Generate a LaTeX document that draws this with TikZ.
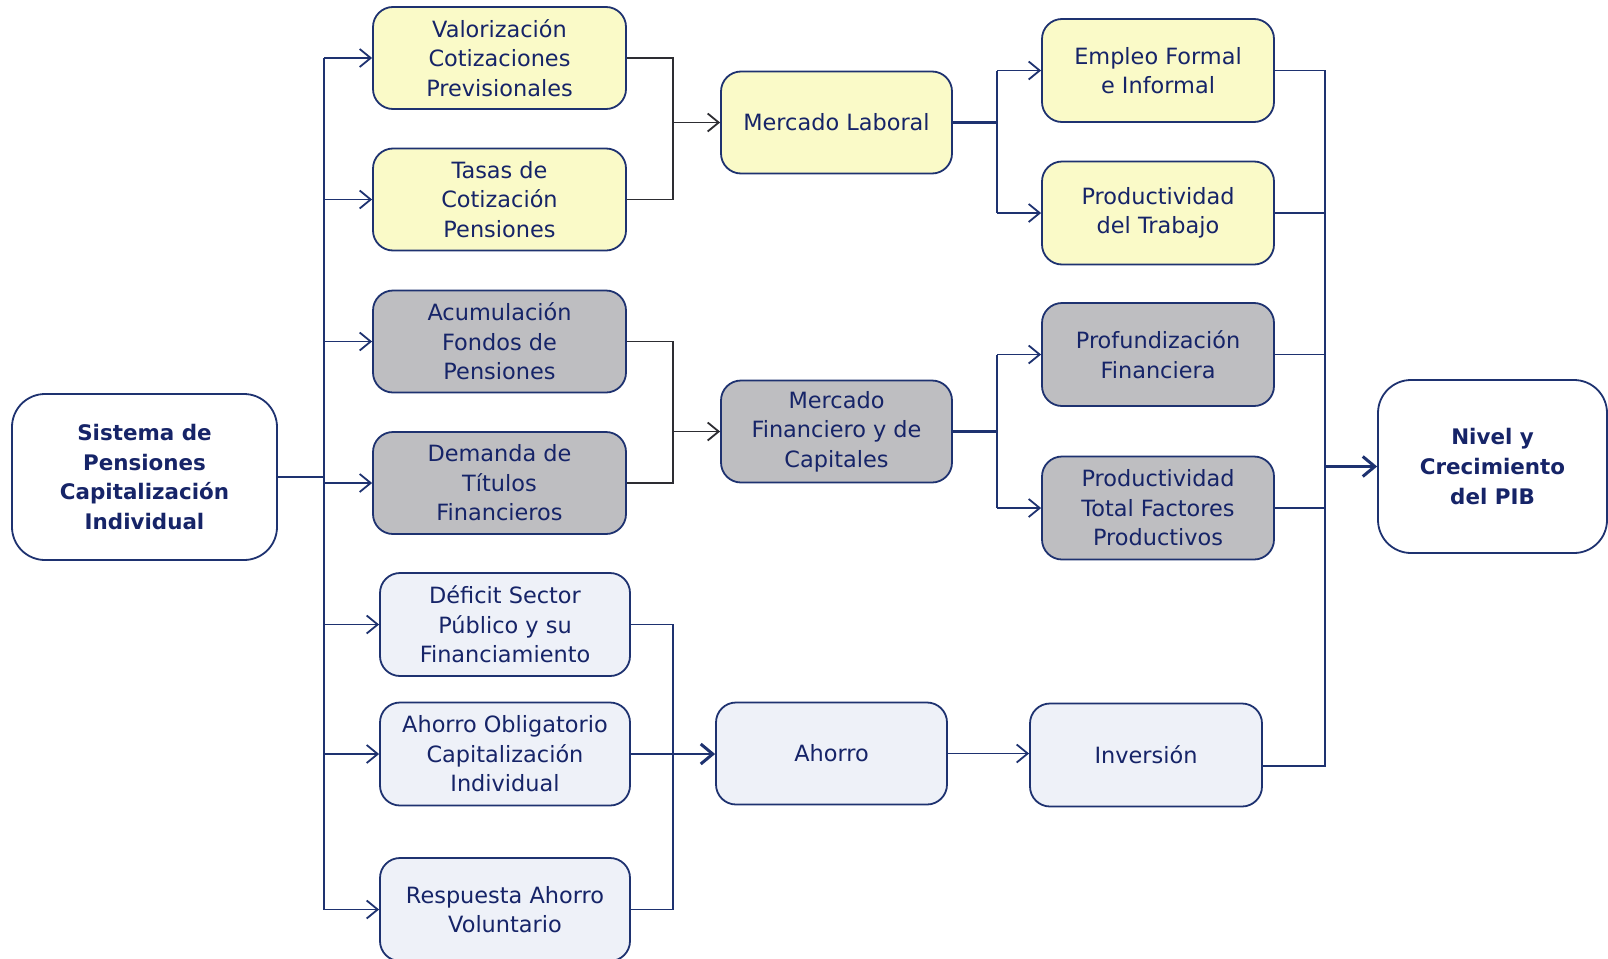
\documentclass[tikz,border=0pt]{standalone}
\usepackage{fontspec}
\setmainfont{DejaVu Sans}
\usetikzlibrary{arrows.meta}
\definecolor{navy}{RGB}{30,50,112}
\definecolor{txt}{RGB}{22,36,104}
\definecolor{yel}{RGB}{250,250,200}
\definecolor{gry}{RGB}{190,190,193}
\definecolor{lbl}{RGB}{238,241,248}
\definecolor{dline}{RGB}{45,45,50}
\tikzset{
  box/.style={draw=navy, line width=1.8bp, rounded corners=20bp, align=center, inner sep=0pt,
    text=txt, font=\fontsize{22.5}{29.5}\selectfont},
  ybox/.style={box, fill=yel, minimum width=253bp, minimum height=102bp},
  gbox/.style={box, fill=gry, minimum width=253bp, minimum height=102bp},
  bbox/.style={box, fill=lbl, minimum width=250bp, minimum height=103bp},
  mbox/.style={box, minimum width=231bp, minimum height=102bp},
  rbox/.style={box, minimum width=232bp, minimum height=103bp},
  bigbox/.style={box, fill=white, rounded corners=33bp, font=\bfseries\fontsize{21.5}{30}\selectfont},
  conn/.style={draw=navy, line width=1.8bp},
  dconn/.style={draw=dline, line width=1.8bp},
  stub/.style={draw=navy, line width=2.8bp},
  arr/.style={-{Straight Barb[length=11bp,width=18bp]}},
  bigarr/.style={-{Straight Barb[length=12bp,width=20bp,line width=3bp]}},
}
\begin{document}
\begin{tikzpicture}[x=1bp,y=-1bp]
\useasboundingbox (0,0) rectangle (1608,958);
\clip (0,0) rectangle (1608,958);
\fill[white] (0,0) rectangle (1608,958);

% nodes
\node[bigbox, minimum width=265bp, minimum height=166bp] (sis) at (144.5,477) {Sistema de\\Pensiones\\Capitalización\\Individual};
\node[ybox] (val) at (499.5,58) {Valorización\\Cotizaciones\\Previsionales};
\node[ybox] (tas) at (499.5,199.5) {Tasas de\\Cotización\\Pensiones};
\node[gbox] (acu) at (499.5,341.5) {Acumulación\\Fondos de\\Pensiones};
\node[gbox] (dem) at (499.5,483) {Demanda de\\Títulos\\Financieros};
\node[bbox] (def) at (505,624.5) {Déficit Sector\\Público y su\\Financiamiento};
\node[bbox] (aob) at (505,754) {Ahorro Obligatorio\\Capitalización\\Individual};
\node[bbox] (res) at (505,909.5) {Respuesta Ahorro\\Voluntario};

\node[mbox, fill=yel] (mla) at (836.5,122.5) {Mercado Laboral};
\node[mbox, fill=gry] (mfi) at (836.5,431.5) {Mercado\\Financiero y de\\Capitales};
\node[mbox, fill=lbl] (aho) at (831.5,753.5) {Ahorro};

\node[rbox, fill=yel] (emp) at (1158,70.5) {Empleo Formal\\e Informal};
\node[rbox, fill=yel] (pdt) at (1158,213) {Productividad\\del Trabajo};
\node[rbox, fill=gry] (pro) at (1158,354.5) {Profundización\\Financiera};
\node[rbox, fill=gry] (ptf) at (1158,508) {Productividad\\Total Factores\\Productivos};
\node[rbox, fill=lbl] (inv) at (1146,755) {Inversión};

\node[bigbox, minimum width=229bp, minimum height=173bp] (niv) at (1492.5,466.5) {Nivel y\\Crecimiento\\del PIB};

% junction x positions
\coordinate (T) at (324,0);
\coordinate (J1) at (673,0);
\coordinate (J2) at (997,0);
\coordinate (J3) at (1325,0);

% left trunk
\draw[stub] (sis.east) -- (sis.east -| T);
\draw[conn] (val.west -| T) -- (res.west -| T);
\foreach \n in {val,tas,acu,dem,def,aob,res}
  \draw[conn,arr] (\n.west -| T) -- (\n.west);

% to Mercado Laboral
\draw[dconn] (val.east) -| (tas.east -| J1) -- (tas.east);
\draw[dconn,arr] (mla.west -| J1) -- (mla.west);
% to Mercado Financiero
\draw[dconn] (acu.east) -| (dem.east -| J1) -- (dem.east);
\draw[dconn,arr] (mfi.west -| J1) -- (mfi.west);
% to Ahorro
\draw[conn] (def.east) -| (res.east -| J1) -- (res.east);
\draw[conn] (aob.east) -- (aob.east -| J1);
\draw[conn,line width=2.4bp,bigarr] (aob.east -| J1) -- (aob.east -| aho.west);

% from Mercado Laboral
\draw[stub] (mla.east) -- (mla.east -| J2);
\draw[conn] (emp.west -| J2) -- (pdt.west -| J2);
\draw[conn,arr] (emp.west -| J2) -- (emp.west);
\draw[conn,arr] (pdt.west -| J2) -- (pdt.west);
% from Mercado Financiero
\draw[stub] (mfi.east) -- (mfi.east -| J2);
\draw[conn] (pro.west -| J2) -- (ptf.west -| J2);
\draw[conn,arr] (pro.west -| J2) -- (pro.west);
\draw[conn,arr] (ptf.west -| J2) -- (ptf.west);
% Ahorro -> Inversion
\draw[conn,arr] (aho.east) -- (aho.east -| inv.west);

% right collector
\coordinate (ie) at ([yshift=-11bp]inv.east);
\draw[conn] (emp.east) -| (ie -| J3) -- (ie);
\foreach \n in {pdt,pro,ptf}
  \draw[conn] (\n.east) -- (\n.east -| J3);
\draw[stub,bigarr] (niv.west -| J3) -- (niv.west);
\end{tikzpicture}
\end{document}
